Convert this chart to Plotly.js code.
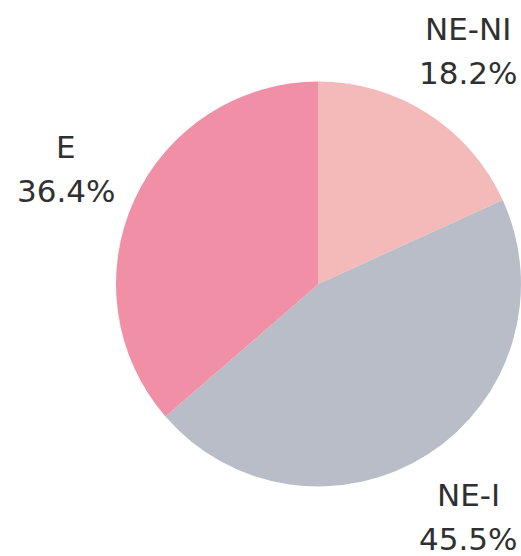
<!DOCTYPE html>
<html>
<head>
<meta charset="utf-8">
<script src="https://cdn.plot.ly/plotly-3.0.1.min.js"></script>
<style>html,body{margin:0;padding:0;background:#fff;}#chart{width:521px;height:556px;}</style>
</head>
<body>
<div id="chart"></div>
<script>
// Data
const categories = ["NE-NI", "NE-I", "E"];
const values = [2, 5, 4];
const colors = ["#f4baba", "#b8bdc7", "#f08fa5"];

const W = 521, H = 556;
const domainX = [0.2226, 1.0];
const domainY = [0.125, 0.8534];

// pie geometry in pixels (derived from domain, as Plotly does)
const dw = (domainX[1] - domainX[0]) * W;
const dh = (domainY[1] - domainY[0]) * H;
const r = Math.min(dw, dh) / 2;
const cx = (domainX[0] + domainX[1]) / 2 * W;
const cy = H - (domainY[0] + domainY[1]) / 2 * H;
const labelDist = 1.37 * r;
const lineGap = 22;

const total = values.reduce((a, b) => a + b, 0);
const annotations = [];
let cum = 0;
values.forEach((v, i) => {
  const mid = (cum + v / 2) / total * 2 * Math.PI; // clockwise from 12 o'clock
  cum += v;
  const px = cx + labelDist * Math.sin(mid);
  const py = cy - labelDist * Math.cos(mid);
  const pct = (v / total * 100).toFixed(1) + "%";
  [[categories[i], py - lineGap], [pct, py + lineGap]].forEach(([txt, y]) => {
    annotations.push({
      text: txt, xref: "paper", yref: "paper",
      x: px / W, y: 1 - y / H, xanchor: "center", yanchor: "middle",
      showarrow: false,
      font: {family: "DejaVu Sans", size: 31, color: "#303030"}
    });
  });
});

const trace = {
  type: "pie",
  labels: categories,
  values: values,
  sort: false,
  direction: "clockwise",
  rotation: 0,
  marker: {colors: colors, line: {width: 0}},
  textinfo: "none",
  hoverinfo: "skip",
  domain: {x: domainX, y: domainY}
};

Plotly.newPlot("chart", [trace], {
  width: W, height: H,
  margin: {l: 0, r: 0, t: 0, b: 0},
  showlegend: false,
  paper_bgcolor: "#ffffff",
  annotations: annotations
}, {displayModeBar: false, staticPlot: true});
</script>
</body>
</html>
